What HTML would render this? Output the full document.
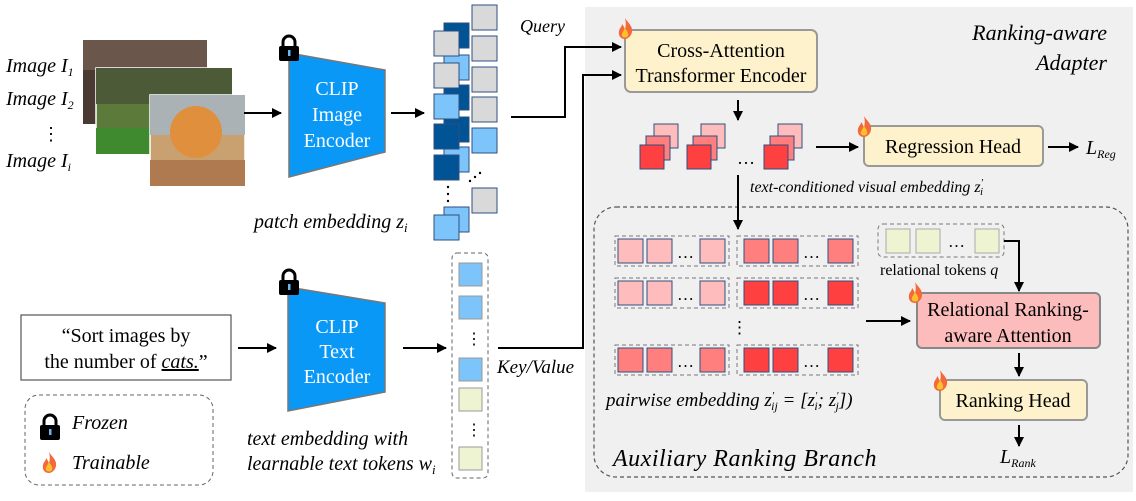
<!DOCTYPE html>
<html><head><meta charset="utf-8"><style>
html,body{margin:0;padding:0;background:#fff;}
svg{display:block;}
svg text{font-family:"Liberation Serif","DejaVu Serif",serif;}
.it{font-style:italic;}
</style></head><body>
<svg width="1136" height="501" viewBox="0 0 1136 501" xmlns="http://www.w3.org/2000/svg" font-family="Liberation Serif, serif">
<defs>
<marker id="ah" markerWidth="10" markerHeight="10" refX="9" refY="5" orient="auto" markerUnits="userSpaceOnUse">
<path d="M0,0 L10,5 L0,10 z" fill="#000"/></marker>
<g id="flame"><path d="M6,0 C9,5 14,8 13,14 C12,19 8,21 6,21 C2,21 -1,18 0,13 C1,9 3,9 3,6 C5,8 5,10 6,11 C7,8 7,4 6,0z" fill="#f4683a"/><path d="M6,10 C8,13 10,15 9,18 C8,20 4,20 3,18 C2,16 4,14 6,10z" fill="#fbc02d"/></g>
<g id="lock"><path d="M4,10 V6 A6,6 0 0 1 16,6 V10" fill="none" stroke="#000" stroke-width="3"/><rect x="0" y="10" width="20" height="15" rx="2" fill="#000"/><rect x="9" y="14" width="2.5" height="6" fill="#6ab8f0"/></g>
<g id="stk"><rect x="14" y="0" width="24" height="24" fill="#ffbcbc" stroke="#2f4f7f" stroke-width="1"/><rect x="6" y="12" width="24" height="24" fill="#ff7f7f" stroke="#2f4f7f" stroke-width="1"/><rect x="0" y="21" width="24" height="24" fill="#ff4040" stroke="#2f4f7f" stroke-width="1"/></g>
</defs>

<rect x="585" y="7" width="548" height="485" fill="#f0f0f0"/>
<rect x="594" y="207" width="534" height="270" rx="22" fill="none" stroke="#555" stroke-width="1.2" stroke-dasharray="4,3"/>

<text class="it" x="6" y="72" font-size="20">Image I<tspan font-size="12" dy="4">1</tspan></text>
<text class="it" x="6" y="105" font-size="20">Image I<tspan font-size="12" dy="4">2</tspan></text>
<text x="42" y="140" font-size="18">⋮</text>
<text class="it" x="6" y="167" font-size="20">Image I<tspan font-size="12" dy="4">i</tspan></text>
<rect x="83" y="40" width="124" height="84" fill="#4a3a32"/>
<rect x="83" y="40" width="124" height="30" fill="#6a564a"/>
<rect x="96" y="68" width="136" height="86" fill="#5c7a3a" stroke="#fff" stroke-width="1.5"/>
<rect x="96" y="68" width="136" height="36" fill="#4c5a38"/>
<rect x="96" y="128" width="136" height="26" fill="#3f8a2e"/>
<rect x="150" y="95" width="95" height="91" fill="#c9a070" stroke="#fff" stroke-width="1.5"/>
<rect x="150" y="95" width="95" height="40" fill="#aab2b6"/>
<ellipse cx="196" cy="132" rx="26" ry="26" fill="#e0903c"/>
<rect x="150" y="160" width="95" height="26" fill="#b07a50"/>
<line x1="244" y1="113" x2="281" y2="113" stroke="#000" stroke-width="2" marker-end="url(#ah)"/>

<polygon points="289,53 385,70 385,152 289,177" fill="#0a98f7" stroke="#777" stroke-width="1.5"/>
<use href="#lock" x="279" y="36"/>
<text x="337" y="95" font-size="20" fill="#fff" text-anchor="middle">CLIP</text>
<text x="337" y="121" font-size="20" fill="#fff" text-anchor="middle">Image</text>
<text x="337" y="147" font-size="20" fill="#fff" text-anchor="middle">Encoder</text>
<line x1="391" y1="113" x2="424" y2="113" stroke="#000" stroke-width="2" marker-end="url(#ah)"/>

<g stroke="#2f4f7f" stroke-width="1">
<rect x="444" y="23" width="25" height="25" fill="#005394"/>
<rect x="444" y="55" width="25" height="25" fill="#7cc4f9"/>
<rect x="444" y="85" width="25" height="25" fill="#005394"/>
<rect x="444" y="117" width="25" height="25" fill="#005394"/>
<rect x="444" y="147" width="25" height="25" fill="#7cc4f9"/>
<rect x="444" y="207" width="25" height="25" fill="#7cc4f9"/>
<rect x="434" y="31" width="25" height="25" fill="#d9d9d9"/>
<rect x="434" y="63" width="25" height="25" fill="#d9d9d9"/>
<rect x="434" y="94" width="25" height="25" fill="#7cc4f9"/>
<rect x="434" y="124" width="25" height="25" fill="#005394"/>
<rect x="434" y="155" width="25" height="25" fill="#005394"/>
<rect x="434" y="215" width="25" height="25" fill="#7cc4f9"/>
<rect x="472" y="5" width="25" height="25" fill="#d9d9d9"/>
<rect x="472" y="36" width="25" height="25" fill="#d9d9d9"/>
<rect x="472" y="67" width="25" height="25" fill="#d9d9d9"/>
<rect x="472" y="97" width="25" height="25" fill="#d9d9d9"/>
<rect x="472" y="128" width="25" height="25" fill="#7cc4f9"/>
<rect x="472" y="188" width="25" height="25" fill="#d9d9d9"/>
</g>
<g fill="#000"><circle cx="448" cy="187" r="1.2"/><circle cx="448" cy="194" r="1.2"/><circle cx="448" cy="201" r="1.2"/>
<circle cx="470" cy="181" r="1.2"/><circle cx="475" cy="177" r="1.2"/><circle cx="480" cy="173" r="1.2"/></g>
<text class="it" x="254" y="228" font-size="20">patch embedding z<tspan font-size="13" dy="4">i</tspan></text>

<polyline points="511,117 565,117 565,47 621,47" fill="none" stroke="#000" stroke-width="2" marker-end="url(#ah)"/>
<text class="it" x="520" y="32" font-size="18">Query</text>

<rect x="21" y="315" width="210" height="65" fill="#fff" stroke="#555" stroke-width="1.2"/>
<text x="126" y="342" font-size="20" text-anchor="middle">“Sort images by</text>
<text x="126" y="368" font-size="20" text-anchor="middle">the number of <tspan class="it" text-decoration="underline">cats.</tspan>”</text>
<line x1="238" y1="348" x2="276" y2="348" stroke="#000" stroke-width="2" marker-end="url(#ah)"/>
<polygon points="288,287 385,303 385,392 288,411" fill="#0a98f7" stroke="#777" stroke-width="1.5"/>
<use href="#lock" x="279" y="270"/>
<text x="337" y="333" font-size="20" fill="#fff" text-anchor="middle">CLIP</text>
<text x="337" y="358" font-size="20" fill="#fff" text-anchor="middle">Text</text>
<text x="337" y="383" font-size="20" fill="#fff" text-anchor="middle">Encoder</text>
<line x1="403" y1="348" x2="446" y2="348" stroke="#000" stroke-width="2" marker-end="url(#ah)"/>

<rect x="452" y="253" width="36" height="225" rx="5" fill="#fff" stroke="#666" stroke-dasharray="4,3"/>
<g stroke="#999" stroke-width="1">
<rect x="459" y="263" width="23" height="23" fill="#7cc4f9"/>
<rect x="459" y="296" width="23" height="23" fill="#7cc4f9"/>
<rect x="459" y="358" width="23" height="23" fill="#7cc4f9"/>
<rect x="459" y="388" width="23" height="23" fill="#eef3d2"/>
<rect x="459" y="447" width="23" height="23" fill="#eef3d2"/>
</g>
<text x="466" y="344" font-size="16">⋮</text>
<text x="466" y="435" font-size="16">⋮</text>
<text class="it" x="247" y="445" font-size="20">text embedding with</text>
<text class="it" x="247" y="470" font-size="20">learnable text tokens w<tspan font-size="13" dy="4">i</tspan></text>

<polyline points="498,348 583,348 583,75 621,75" fill="none" stroke="#000" stroke-width="2" marker-end="url(#ah)"/>
<text class="it" x="497" y="373" font-size="19">Key/Value</text>

<rect x="25" y="395" width="188" height="90" rx="14" fill="none" stroke="#666" stroke-dasharray="4,3"/>
<use href="#lock" x="40" y="415"/>
<text class="it" x="72" y="429" font-size="20">Frozen</text>
<use href="#flame" x="43" y="452"/>
<text class="it" x="72" y="469" font-size="20">Trainable</text>

<rect x="625" y="30" width="192" height="62" rx="6" fill="#fdf2cc" stroke="#999" stroke-width="2"/>
<use href="#flame" x="619" y="18"/>
<text x="721" y="57" font-size="20" text-anchor="middle">Cross-Attention</text>
<text x="721" y="82" font-size="20" text-anchor="middle">Transformer Encoder</text>
<text class="it" x="1107" y="40" font-size="22" text-anchor="end">Ranking-aware</text>
<text class="it" x="1107" y="70" font-size="22" text-anchor="end">Adapter</text>
<line x1="738" y1="100" x2="738" y2="120" stroke="#000" stroke-width="2" marker-end="url(#ah)"/>

<use href="#stk" x="640" y="124"/>
<use href="#stk" x="687" y="124"/>
<use href="#stk" x="764" y="124"/>
<text x="737" y="164" font-size="18">…</text>
<line x1="816" y1="147" x2="858" y2="147" stroke="#000" stroke-width="2" marker-end="url(#ah)"/>
<rect x="864" y="126" width="179" height="40" rx="5" fill="#fdf2cc" stroke="#999" stroke-width="2"/>
<use href="#flame" x="858" y="116"/>
<text x="953" y="153" font-size="20" text-anchor="middle">Regression Head</text>
<line x1="1048" y1="147" x2="1078" y2="147" stroke="#000" stroke-width="2" marker-end="url(#ah)"/>
<text class="it" x="1086" y="154" font-size="20">L<tspan font-size="12" dy="4">Reg</tspan></text>
<line x1="738" y1="175" x2="738" y2="229" stroke="#000" stroke-width="2" marker-end="url(#ah)"/>
<text class="it" x="750" y="192" font-size="16">text-conditioned visual embedding z<tspan font-size="11" dy="-6">′</tspan><tspan font-size="11" dy="9" dx="-3">i</tspan></text>

<g fill="none" stroke="#777" stroke-dasharray="4,3">
<rect x="615" y="236" width="114" height="30"/><rect x="737" y="236" width="121" height="30"/>
<rect x="615" y="278" width="114" height="30"/><rect x="737" y="278" width="121" height="30"/>
<rect x="615" y="345" width="114" height="30"/><rect x="737" y="345" width="121" height="30"/>
</g>
<g stroke="#2f4f7f" stroke-width="1">
<rect x="618" y="239" width="25" height="24" fill="#ffbcbc"/><rect x="647" y="239" width="25" height="24" fill="#ffbcbc"/><rect x="700" y="239" width="25" height="24" fill="#ffbcbc"/>
<rect x="744" y="239" width="25" height="24" fill="#ff7f7f"/><rect x="773" y="239" width="25" height="24" fill="#ff7f7f"/><rect x="828" y="239" width="25" height="24" fill="#ff7f7f"/>
<rect x="618" y="281" width="25" height="24" fill="#ffbcbc"/><rect x="647" y="281" width="25" height="24" fill="#ffbcbc"/><rect x="700" y="281" width="25" height="24" fill="#ffbcbc"/>
<rect x="744" y="281" width="25" height="24" fill="#ff4040"/><rect x="773" y="281" width="25" height="24" fill="#ff4040"/><rect x="828" y="281" width="25" height="24" fill="#ff4040"/>
<rect x="618" y="348" width="25" height="24" fill="#ff7f7f"/><rect x="647" y="348" width="25" height="24" fill="#ff7f7f"/><rect x="700" y="348" width="25" height="24" fill="#ff7f7f"/>
<rect x="744" y="348" width="25" height="24" fill="#ff4040"/><rect x="773" y="348" width="25" height="24" fill="#ff4040"/><rect x="828" y="348" width="25" height="24" fill="#ff4040"/>
</g>
<g font-size="17"><text x="677" y="258">…</text><text x="803" y="258">…</text><text x="677" y="300">…</text><text x="803" y="300">…</text><text x="677" y="367">…</text><text x="803" y="367">…</text></g>
<text x="731" y="333" font-size="17">⋮</text>
<text class="it" x="606" y="406" font-size="19">pairwise embedding z<tspan font-size="11" dy="-7">′</tspan><tspan font-size="12" dy="11" dx="-3">ij</tspan><tspan dy="-4"> = [z</tspan><tspan font-size="11" dy="-7">′</tspan><tspan font-size="12" dy="11" dx="-3">i</tspan><tspan dy="-4">; z</tspan><tspan font-size="11" dy="-7">′</tspan><tspan font-size="12" dy="11" dx="-3">j</tspan><tspan dy="-4">])</tspan></text>
<line x1="866" y1="321" x2="910" y2="321" stroke="#000" stroke-width="2" marker-end="url(#ah)"/>

<rect x="878" y="224" width="126" height="33" rx="5" fill="none" stroke="#777" stroke-dasharray="4,3"/>
<g stroke="#aaa"><rect x="886" y="229" width="24" height="24" fill="#eef3d2"/><rect x="916" y="229" width="24" height="24" fill="#eef3d2"/><rect x="975" y="229" width="24" height="24" fill="#eef3d2"/></g>
<text x="948" y="247" font-size="17">…</text>
<text x="880" y="275" font-size="16">relational tokens <tspan class="it">q</tspan></text>
<polyline points="1004,241 1019,241 1019,291" fill="none" stroke="#000" stroke-width="2" marker-end="url(#ah)"/>

<rect x="917" y="293" width="183" height="55" rx="5" fill="#fcbcbc" stroke="#888" stroke-width="2"/>
<use href="#flame" x="909" y="282"/>
<text x="1008" y="316" font-size="20" text-anchor="middle">Relational Ranking-</text>
<text x="1008" y="342" font-size="20" text-anchor="middle">aware Attention</text>
<line x1="1019" y1="353" x2="1019" y2="376" stroke="#000" stroke-width="2" marker-end="url(#ah)"/>
<rect x="940" y="380" width="147" height="40" rx="5" fill="#fdf2cc" stroke="#999" stroke-width="2"/>
<use href="#flame" x="934" y="370"/>
<text x="1013" y="407" font-size="20" text-anchor="middle">Ranking Head</text>
<line x1="1019" y1="425" x2="1019" y2="446" stroke="#000" stroke-width="2" marker-end="url(#ah)"/>
<text class="it" x="1000" y="463" font-size="20">L<tspan font-size="12" dy="4">Rank</tspan></text>
<text class="it" x="613" y="466" font-size="24" letter-spacing="0.5">Auxiliary Ranking Branch</text>
</svg>
</body></html>
